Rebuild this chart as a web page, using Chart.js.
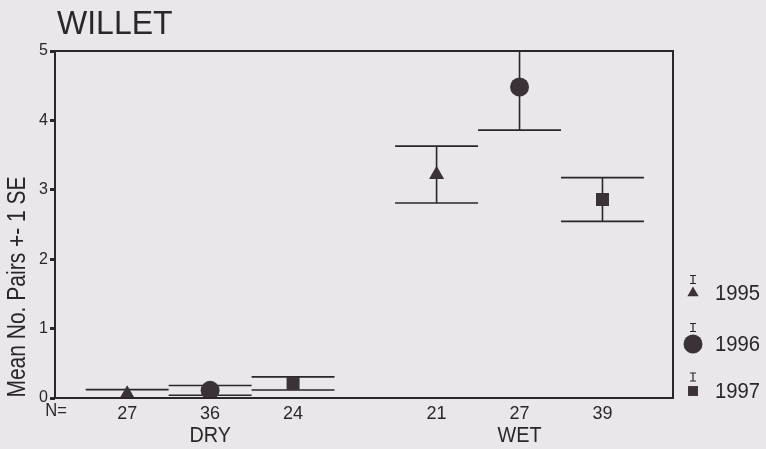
<!DOCTYPE html>
<html>
<head>
<meta charset="utf-8">
<script src="https://cdn.jsdelivr.net/npm/chart.js@4/dist/chart.umd.min.js"></script>
<style>
  html, body { margin: 0; padding: 0; background: #e9e7ea; }
  #wrap { width: 766px; height: 449px; }
</style>
</head>
<body>
<div id="wrap"><canvas id="c" width="766" height="449"></canvas></div>
<script>
// Willet breeding pairs: mean +- 1 SE by habitat group and year
const groups = ['DRY', 'WET'];
const years = ['1995', '1996', '1997'];
const nLabels = ['27', '36', '24', '21', '27', '39'];
const mean1995 = [0.06, 3.22];
const se1995 = [0.06, 0.41];
const mean1996 = [0.11, 4.48];
const se1996 = [0.07, 0.62];
const mean1997 = [0.21, 2.86];
const se1997 = [0.095, 0.315];
const yTicks = [0, 1, 2, 3, 4, 5];

const means = [mean1995, mean1996, mean1997];
const ses = [se1995, se1996, se1997];
const shapes = ['triangle', 'circle', 'rect'];
const radii = [8.7, 9.5, 9.2];

const INK = '#2b2729';
const MARK = '#3a3236';
const FONT = '"Liberation Sans", Arial, sans-serif';

// slot layout on the x axis: one unit per year inside each habitat group
const FIRST_SLOT = 0.87;
const GROUP_STEP = 3.73;
const slotX = (g, i) => FIRST_SLOT + g * GROUP_STEP + i;
const slotPositions = [];
groups.forEach((g, gi) => years.forEach((y, yi) => slotPositions.push(slotX(gi, yi))));

const datasets = years.map((yr, yi) => ({
  label: yr,
  data: groups.map((g, gi) => ({ x: slotX(gi, yi), y: means[yi][gi], se: ses[yi][gi] })),
  pointStyle: shapes[yi],
  pointRadius: radii[yi],
  pointHoverRadius: radii[yi],
  backgroundColor: MARK,
  borderColor: MARK,
  borderWidth: 0,
  showLine: false
}));

// text drawn with a slightly condensed face
function condensedText(ctx, text, x, y, size, squeeze, align, angle) {
  ctx.save();
  ctx.translate(x, y);
  if (angle) ctx.rotate(angle);
  ctx.scale(squeeze, 1);
  ctx.font = size + 'px ' + FONT;
  ctx.textAlign = align;
  ctx.textBaseline = 'middle';
  ctx.fillStyle = INK;
  ctx.fillText(text, 0, 0);
  ctx.restore();
}

const background = {
  id: 'background',
  beforeDraw(chart) {
    const ctx = chart.ctx;
    ctx.save();
    ctx.fillStyle = '#e9e7ea';
    ctx.fillRect(0, 0, chart.width, chart.height);
    ctx.restore();
  }
};

const errorBars = {
  id: 'errorBars',
  beforeDatasetsDraw(chart) {
    const { ctx, chartArea: a, scales: { x, y } } = chart;
    ctx.save();
    ctx.beginPath();
    ctx.rect(a.left, a.top, a.right - a.left, a.bottom - a.top);
    ctx.clip();
    ctx.strokeStyle = INK;
    ctx.lineWidth = 1.6;
    chart.data.datasets.forEach(ds => {
      ds.data.forEach(p => {
        const px = x.getPixelForValue(p.x);
        const l = x.getPixelForValue(p.x - 0.5);
        const r = x.getPixelForValue(p.x + 0.5);
        const hi = y.getPixelForValue(p.y + p.se);
        const lo = y.getPixelForValue(p.y - p.se);
        ctx.beginPath();
        ctx.moveTo(px, hi); ctx.lineTo(px, lo);
        ctx.moveTo(l, hi); ctx.lineTo(r, hi);
        ctx.moveTo(l, lo); ctx.lineTo(r, lo);
        ctx.stroke();
      });
    });
    ctx.restore();
  }
};

const frameAndLabels = {
  id: 'frameAndLabels',
  afterDraw(chart) {
    const { ctx, chartArea: a, scales: { x } } = chart;
    ctx.save();
    // plot frame
    ctx.strokeStyle = INK;
    ctx.lineWidth = 2;
    ctx.strokeRect(a.left, a.top, a.right - a.left, a.bottom - a.top);

    // title
    ctx.fillStyle = INK;
    ctx.font = '33px ' + FONT;
    ctx.textAlign = 'left';
    ctx.textBaseline = 'alphabetic';
    ctx.save();
    ctx.translate(57, 34);
    ctx.scale(0.97, 1);
    ctx.fillText('WILLET', 0, 0);
    ctx.restore();

    // N= row label
    condensedText(ctx, 'N=', 56, 411, 18, 0.92, 'center');

    // group labels
    groups.forEach((g, gi) => {
      condensedText(ctx, g, x.getPixelForValue(slotX(gi, 1)), 436, 22, 0.9, 'center');
    });

    // y axis title
    condensedText(ctx, 'Mean No. Pairs +- 1 SE', 18, 287, 25, 0.84, 'center', -Math.PI / 2);

    // legend
    const ly = [293, 344, 391];
    const lr = [6.5, 9.5, 7];
    const lx = 693;
    years.forEach((yr, yi) => {
      ctx.fillStyle = MARK;
      ctx.strokeStyle = MARK;
      Chart.helpers.drawPoint(ctx, { pointStyle: shapes[yi], radius: lr[yi], rotation: 0, borderWidth: 0 }, lx, ly[yi]);
      ctx.beginPath();
      const top = ly[yi] - lr[yi] - 11;
      ctx.lineWidth = 1.2;
      ctx.strokeStyle = INK;
      ctx.moveTo(lx, top); ctx.lineTo(lx, top + 8);
      ctx.moveTo(lx - 3, top); ctx.lineTo(lx + 3, top);
      ctx.moveTo(lx - 3, top + 8); ctx.lineTo(lx + 3, top + 8);
      ctx.stroke();
      condensedText(ctx, yr, 715, ly[yi] + 1, 22, 0.92, 'left');
    });
    ctx.restore();
  }
};

new Chart(document.getElementById('c'), {
  type: 'scatter',
  data: { datasets },
  options: {
    responsive: false,
    devicePixelRatio: 1,
    animation: false,
    events: [],
    layout: { padding: { top: 51, right: 93, left: 0, bottom: 0 } },
    plugins: { legend: { display: false }, tooltip: { enabled: false }, title: { display: false } },
    scales: {
      x: {
        type: 'linear',
        min: 0,
        max: 7.45,
        afterFit(s) { s.height = 51; },
        afterBuildTicks(s) { s.ticks = slotPositions.map(v => ({ value: v })); },
        ticks: {
          autoSkip: false,
          maxRotation: 0,
          padding: 5,
          color: INK,
          font: { family: FONT, size: 18 },
          callback: (v, i) => nLabels[i]
        },
        grid: { display: false, drawTicks: false },
        border: { display: false }
      },
      y: {
        type: 'linear',
        min: 0,
        max: 5,
        afterFit(s) { s.width = 55; },
        afterBuildTicks(s) { s.ticks = yTicks.map(v => ({ value: v })); },
        ticks: {
          padding: 2,
          color: INK,
          font: { family: FONT, size: 16 },
          callback: v => String(v)
        },
        grid: { drawOnChartArea: false, drawTicks: true, tickLength: 5, tickWidth: 3, color: INK },
        border: { display: false }
      }
    }
  },
  plugins: [background, errorBars, frameAndLabels]
});
</script>
</body>
</html>
